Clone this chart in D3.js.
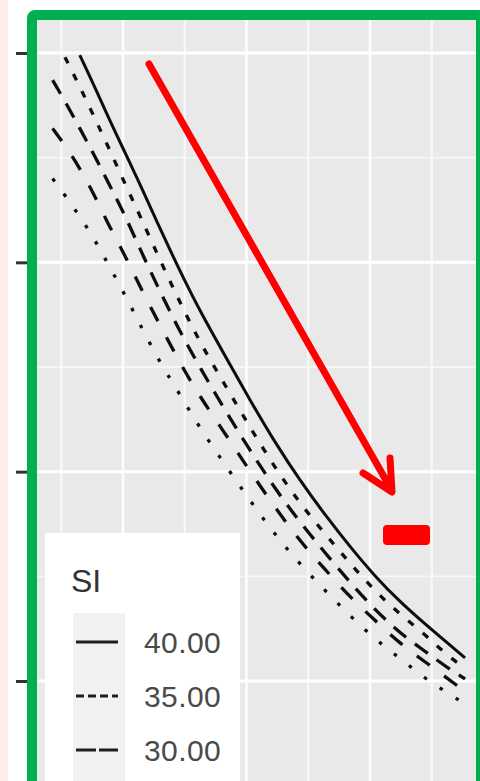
<!DOCTYPE html>
<html>
<head>
<meta charset="utf-8">
<script src="https://cdn.jsdelivr.net/npm/d3@7/dist/d3.min.js"></script>
<style>
  body { margin: 0; background: #ffffff; }
  svg { display: block; }
</style>
</head>
<body>
<div id="myPlot"></div>
<script>
// x positions shared by all curves
const xVals = [0.43, 0.53, 0.65, 0.77, 0.89, 1.02, 1.14, 1.30, 1.46, 1.62, 1.83, 2.03, 2.23, 2.43, 2.64, 2.84, 3.04, 3.24, 3.45, 3.61, 3.77];
// one series per SI level (null = above the y limit)
const si40 = [null, null, 3.99, 3.84, 3.68, 3.52, 3.37, 3.16, 2.96, 2.77, 2.55, 2.34, 2.14, 1.96, 1.79, 1.64, 1.50, 1.38, 1.27, 1.19, 1.11];
const si35 = [null, 3.98, 3.84, 3.69, 3.54, 3.37, 3.22, 3.01, 2.81, 2.62, 2.41, 2.21, 2.02, 1.85, 1.70, 1.56, 1.43, 1.32, 1.22, 1.13, 1.06];
const si30 = [3.87, 3.77, 3.64, 3.51, 3.37, 3.22, 3.06, 2.86, 2.67, 2.50, 2.29, 2.10, 1.92, 1.76, 1.61, 1.47, 1.34, 1.23, 1.14, 1.07, 1.01];
const si25 = [3.64, 3.56, 3.45, 3.32, 3.17, 3.03, 2.88, 2.70, 2.52, 2.36, 2.18, 2.00, 1.83, 1.67, 1.53, 1.40, 1.29, 1.18, 1.09, 1.02, 0.95];
const si20 = [3.40, 3.32, 3.22, 3.11, 2.98, 2.84, 2.70, 2.52, 2.37, 2.21, 2.03, 1.86, 1.70, 1.56, 1.43, 1.31, 1.20, 1.11, 1.01, 0.95, 0.89];
const siLabels = ['40.00', '35.00', '30.00', '25.00', '20.00'];
const yTicks = [1, 2, 3, 4];
const yMinor = [0.5, 1.5, 2.5, 3.5];
const xMajor = [1, 2, 3];
const xMinor = [0.5, 1.5, 2.5, 3.5];

const width = 480;
const height = 781;

const svg = d3.select('#myPlot')
  .append('svg')
    .attr('width', width)
    .attr('height', height);

const x = d3.scaleLinear().domain([1, 3]).range([123, 370]);
const y = d3.scaleLinear().domain([1, 4]).range([681, 53]);

const defs = svg.append('defs');
defs.append('filter').attr('id', 'soft')
  .attr('filterUnits', 'userSpaceOnUse')
  .attr('x', 0).attr('y', 0).attr('width', width).attr('height', height)
  .append('feGaussianBlur').attr('stdDeviation', 0.55);

// page margin strip
svg.append('rect').attr('x', 0).attr('y', 0).attr('width', 8).attr('height', height).attr('fill', '#fdeded');

// panel
const panel = { left: 32, top: 15, right: 486, bottom: 820 };
defs.append('clipPath').attr('id', 'clip')
  .append('rect')
    .attr('x', panel.left).attr('y', panel.top)
    .attr('width', panel.right - panel.left).attr('height', panel.bottom - panel.top);

svg.append('rect')
  .attr('x', panel.left).attr('y', panel.top)
  .attr('width', panel.right - panel.left).attr('height', panel.bottom - panel.top)
  .attr('fill', '#e9e9e9');

const grid = svg.append('g').attr('clip-path', 'url(#clip)');
grid.selectAll('.hminor').data(yMinor).enter().append('line')
  .attr('x1', panel.left).attr('x2', panel.right)
  .attr('y1', d => y(d)).attr('y2', d => y(d))
  .attr('stroke', '#f6f6f6').attr('stroke-width', 1.8);
grid.selectAll('.vminor').data(xMinor).enter().append('line')
  .attr('y1', panel.top).attr('y2', panel.bottom)
  .attr('x1', d => x(d)).attr('x2', d => x(d))
  .attr('stroke', '#f8f8f8').attr('stroke-width', 2.2);
grid.selectAll('.hmajor').data(yTicks).enter().append('line')
  .attr('x1', panel.left).attr('x2', panel.right)
  .attr('y1', d => y(d)).attr('y2', d => y(d))
  .attr('stroke', '#ffffff').attr('stroke-width', 3);
grid.selectAll('.vmajor').data(xMajor).enter().append('line')
  .attr('y1', panel.top).attr('y2', panel.bottom)
  .attr('x1', d => x(d)).attr('x2', d => x(d))
  .attr('stroke', '#fdfdfd').attr('stroke-width', 2.6);

// y axis ticks (labels fall outside the crop)
svg.append('g')
  .attr('transform', 'translate(' + panel.left + ',0)')
  .call(d3.axisLeft(y).tickValues(yTicks).tickSize(16).tickFormat(''))
  .call(g => g.select('.domain').remove())
  .selectAll('line')
    .attr('stroke', '#333333')
    .attr('stroke-width', 3);

// curves
const series = [
  { name: siLabels[0], values: si40, dash: null, keyDash: null },
  { name: siLabels[1], values: si35, dash: '7,12', keyDash: '8,4' },
  { name: siLabels[2], values: si30, dash: '16,11', keyDash: '20,3' },
  { name: siLabels[3], values: si25, dash: '16,18', keyDash: '16,18' },
  { name: siLabels[4], values: si20, dash: '3.5,15.5', keyDash: '4,15' }
];

const line = d3.line()
  .defined(d => d[1] != null)
  .x(d => x(d[0]))
  .y(d => y(d[1]))
  .curve(d3.curveBasis);

const curves = svg.append('g').attr('clip-path', 'url(#clip)');
curves.selectAll('path')
  .data(series)
  .enter()
  .append('path')
    .attr('d', s => line(xVals.map((v, i) => [v, s.values[i]])))
    .attr('fill', 'none')
    .attr('stroke', '#111111')
    .attr('stroke-width', (s, i) => i === 0 ? 3 : 3.3)
    .attr('stroke-dasharray', s => s.dash)
    .attr('filter', 'url(#soft)');

// legend (only the first three keys fall inside the crop)
const legend = svg.append('g').attr('clip-path', 'url(#clip)');
legend.append('rect')
  .attr('x', 45).attr('y', 533).attr('width', 195).attr('height', 320)
  .attr('fill', '#ffffff');
legend.append('text')
  .attr('x', 71).attr('y', 592)
  .attr('font-family', 'Liberation Sans, Arial, sans-serif')
  .attr('font-size', 32)
  .attr('fill', '#333333')
  .text('SI');
legend.append('rect')
  .attr('x', 73).attr('y', 613).attr('width', 52).attr('height', 300)
  .attr('fill', '#f2f2f2');

const rows = legend.selectAll('.key')
  .data(series.slice(0, 3))
  .enter()
  .append('g')
    .attr('transform', (d, i) => 'translate(0,' + (642 + i * 54) + ')');
rows.append('line')
  .attr('x1', 76).attr('x2', 118)
  .attr('stroke', '#1e1e1e')
  .attr('stroke-width', 2.8)
  .attr('stroke-dasharray', d => d.keyDash);
rows.append('text')
  .attr('x', 144).attr('y', 11)
  .attr('font-family', 'Liberation Sans, Arial, sans-serif')
  .attr('font-size', 30)
  .attr('letter-spacing', 0.4)
  .attr('fill', '#4a4a4a')
  .text(d => d.name);

// red annotations
svg.append('path')
  .attr('d', 'M149,64 L391,489 M363,473 L392,492 L390,458')
  .attr('fill', 'none')
  .attr('stroke', '#ff0000')
  .attr('stroke-width', 7)
  .attr('stroke-linecap', 'round')
  .attr('stroke-linejoin', 'round');
svg.append('rect')
  .attr('x', 383).attr('y', 525).attr('width', 47).attr('height', 20).attr('rx', 4)
  .attr('fill', '#ff0000');

// green frame
svg.append('rect')
  .attr('x', 32).attr('y', 15).attr('width', 449).attr('height', 820).attr('rx', 3)
  .attr('fill', 'none')
  .attr('stroke', '#00b050')
  .attr('stroke-width', 10);
</script>
</body>
</html>
